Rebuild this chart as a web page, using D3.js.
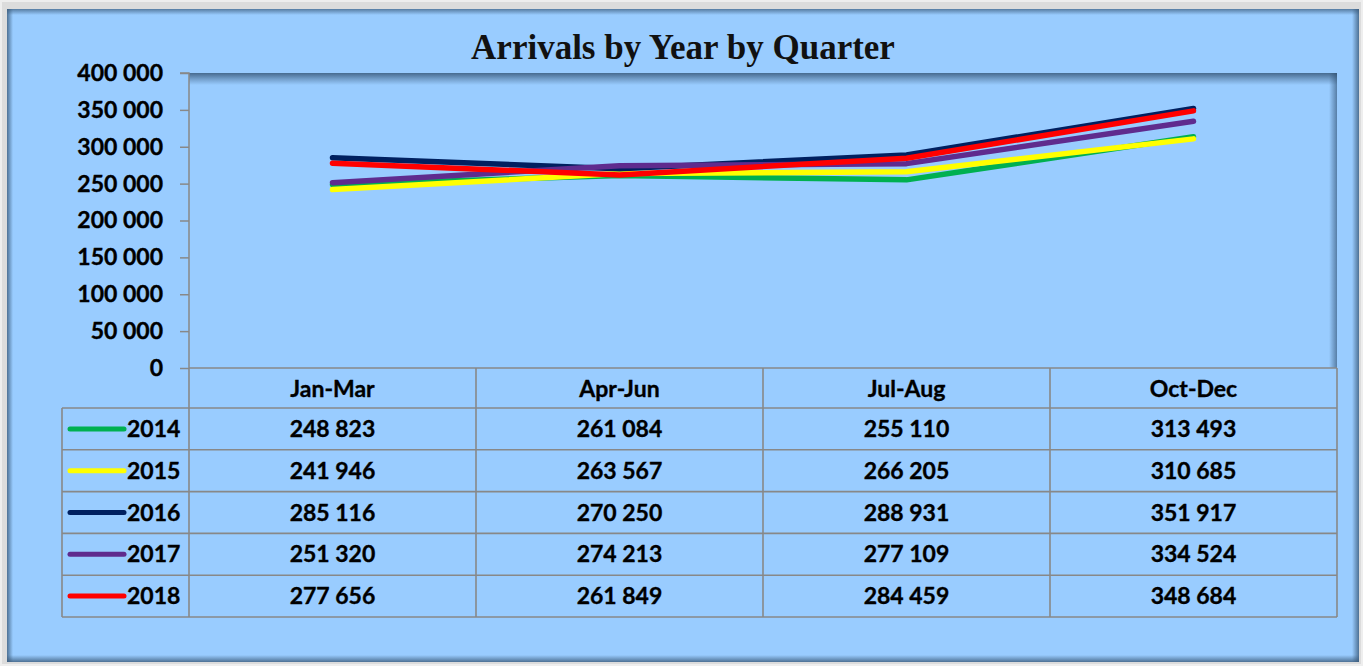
<!DOCTYPE html>
<html><head><meta charset="utf-8">
<script src="https://cdn.jsdelivr.net/npm/d3@7"></script>
<style>
html,body{margin:0;padding:0;background:#fff;}
svg{display:block;}
</style></head>
<body>
<svg id="chart" width="1363" height="666"></svg>
<script>
const categories = ["Jan-Mar","Apr-Jun","Jul-Aug","Oct-Dec"];
const years = ["2014","2015","2016","2017","2018"];
const v2014 = [248823, 261084, 255110, 313493];
const v2015 = [241946, 263567, 266205, 310685];
const v2016 = [285116, 270250, 288931, 351917];
const v2017 = [251320, 274213, 277109, 334524];
const v2018 = [277656, 261849, 284459, 348684];
const colors = ["#00B050","#FFFF00","#002060","#5F2B8E","#FF0000"];
const yTicks = [0,50000,100000,150000,200000,250000,300000,350000,400000];
const title = "Arrivals by Year by Quarter";

(function(){
const seriesValues = [v2014, v2015, v2016, v2017, v2018];
const series = years.map((y,i)=>({year:y, values:seriesValues[i], color:colors[i]}));

const svg = d3.select("#chart");
const W=1363,H=666;
const fmt = v => d3.format(",")(v).replace(/,/g," ");

const defs = svg.append("defs");
function lg(id, x1,y1,x2,y2, stops){
  const g = defs.append("linearGradient").attr("id",id).attr("x1",x1).attr("y1",y1).attr("x2",x2).attr("y2",y2);
  stops.forEach(s=>g.append("stop").attr("offset",s[0]).attr("stop-color",s[1]).attr("stop-opacity",s[2]));
}
lg("shTop",0,0,0,1,[[0,"#2b4a6a",0.75],[0.5,"#2b4a6a",0.35],[1,"#2b4a6a",0]]);
lg("shRight",1,0,0,0,[[0,"#2b4a6a",0.6],[1,"#2b4a6a",0]]);
lg("pnL",0,0,1,0,[[0,"#3a5a7a",0.8],[1,"#3a5a7a",0]]);
lg("pnR",1,0,0,0,[[0,"#3a5a7a",0.8],[1,"#3a5a7a",0]]);
lg("pnT",0,0,0,1,[[0,"#3a5a7a",0.7],[1,"#3a5a7a",0]]);
lg("pnB",0,1,0,0,[[0,"#3a5a7a",0.8],[1,"#3a5a7a",0]]);

svg.append("rect").attr("x",0).attr("y",0).attr("width",W).attr("height",H).attr("fill","#dcdcdc");
svg.append("rect").attr("x",1).attr("y",1).attr("width",W-2).attr("height",H-2).attr("fill","none").attr("stroke","#eeeeee").attr("stroke-width",2);
const px=7, py=9, pw=1352, ph=653;
svg.append("rect").attr("x",px).attr("y",py).attr("width",pw).attr("height",ph).attr("fill","#99CCFF");
svg.append("rect").attr("x",px).attr("y",py).attr("width",6).attr("height",ph).attr("fill","url(#pnL)");
svg.append("rect").attr("x",px+pw-7).attr("y",py).attr("width",7).attr("height",ph).attr("fill","url(#pnR)");
svg.append("rect").attr("x",px).attr("y",py).attr("width",pw).attr("height",6).attr("fill","url(#pnT)");
svg.append("rect").attr("x",px).attr("y",py+ph-7).attr("width",pw).attr("height",7).attr("fill","url(#pnB)");

svg.append("text").attr("x",683).attr("y",59).attr("text-anchor","middle")
  .attr("font-family","'Liberation Serif','DejaVu Serif',serif").attr("font-weight","bold")
  .attr("font-size",35).attr("fill","#111").text(title);

const pLeft=189, pRight=1337, pTop=73, pBottom=368;
const x = d3.scaleBand().domain(categories).range([pLeft,pRight]);
const y = d3.scaleLinear().domain([0,400000]).range([pBottom,pTop]);

svg.append("rect").attr("x",pLeft).attr("y",pTop).attr("width",pRight-pLeft).attr("height",12).attr("fill","url(#shTop)");
svg.append("rect").attr("x",pRight-8).attr("y",pTop).attr("width",8).attr("height",pBottom-pTop).attr("fill","url(#shRight)");

const font = "Lato, 'Open Sans', sans-serif";
const fs = 23;
function styleText(sel){
  sel.attr("font-family",font).attr("font-weight","bold").attr("font-size",fs)
    .attr("fill","#000").attr("stroke","#000").attr("stroke-width",0.35);
}
const yAxis = d3.axisLeft(y).tickValues(yTicks).tickFormat(fmt).tickSize(9).tickPadding(17);
const ga = svg.append("g").attr("transform",`translate(${pLeft},0)`).call(yAxis);
ga.select(".domain").attr("stroke","#888").attr("stroke-width",1.5).attr("d",`M-9,${pTop}H0V${pBottom}`);
ga.selectAll(".tick line").attr("stroke","#888").attr("stroke-width",1.5);
styleText(ga.selectAll(".tick text"));

const line = d3.line().x((d,i)=>x(categories[i])+x.bandwidth()/2).y(d=>y(d));
svg.append("g").selectAll("path").data(series).join("path")
  .attr("d",d=>line(d.values)).attr("fill","none").attr("stroke",d=>d.color)
  .attr("stroke-width",5.5).attr("stroke-linecap","round").attr("stroke-linejoin","round");

const headerH = 40, rowH = 41.8, legendLeft = 62;
const rows = d3.scaleBand().domain(years).range([pBottom+headerH, pBottom+headerH+rowH*years.length]);
const tableBottom = pBottom+headerH+rowH*years.length;
const tg = svg.append("g").attr("stroke","#888").attr("stroke-width",1.6).attr("fill","none");
tg.append("line").attr("x1",pLeft).attr("x2",pRight).attr("y1",pBottom).attr("y2",pBottom);
years.forEach(yr=>{
  tg.append("line").attr("x1",legendLeft).attr("x2",pRight).attr("y1",rows(yr)).attr("y2",rows(yr));
});
tg.append("line").attr("x1",legendLeft).attr("x2",pRight).attr("y1",tableBottom).attr("y2",tableBottom);
tg.append("line").attr("x1",legendLeft).attr("x2",legendLeft).attr("y1",rows(years[0])).attr("y2",tableBottom);
categories.forEach(c=>{
  tg.append("line").attr("x1",x(c)).attr("x2",x(c)).attr("y1",pBottom).attr("y2",tableBottom);
});
tg.append("line").attr("x1",pRight).attr("x2",pRight).attr("y1",pBottom).attr("y2",tableBottom);

styleText(svg.append("g").selectAll("text").data(categories).join("text")
  .attr("x",c=>x(c)+x.bandwidth()/2).attr("y",pBottom+29).attr("text-anchor","middle").text(c=>c));

series.forEach(s=>{
  const cy = rows(s.year)+rows.bandwidth()/2;
  svg.append("line").attr("x1",70).attr("x2",124).attr("y1",cy).attr("y2",cy)
    .attr("stroke",s.color).attr("stroke-width",5).attr("stroke-linecap","round");
  styleText(svg.append("text").attr("x",127).attr("y",cy+8).text(s.year));
  styleText(svg.append("g").selectAll("text").data(s.values).join("text")
    .attr("x",(d,i)=>x(categories[i])+x.bandwidth()/2).attr("y",cy+8).attr("text-anchor","middle").text(d=>fmt(d)));
});
})();
</script>
</body></html>
